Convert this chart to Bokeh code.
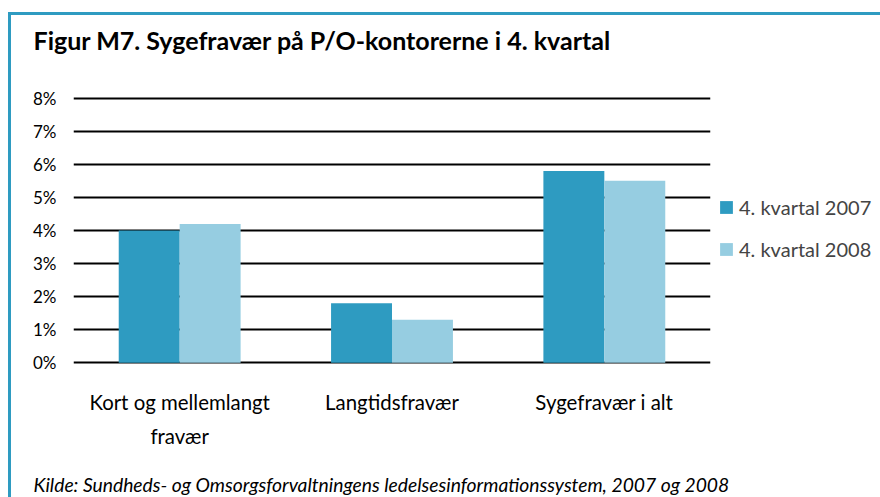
from bokeh.plotting import figure
from bokeh.models import (FactorRange, Range1d, FixedTicker, PrintfTickFormatter, Legend,
                          LegendItem, Title, InlineStyleSheet, ColumnDataSource)
from bokeh.transform import dodge
from bokeh.embed import file_html
from bokeh.resources import INLINE

# ---- data ----
categories = ["Kort og mellemlangt\nfravær", "Langtidsfravær", "Sygefravær i alt"]
series_names = ["4. kvartal 2007", "4. kvartal 2008"]
values_2007 = [4.0, 1.8, 5.8]
values_2008 = [4.2, 1.3, 5.5]
y_ticks = [0, 1, 2, 3, 4, 5, 6, 7, 8]
title_text = "Figur M7. Sygefravær på P/O-kontorerne i 4. kvartal"
source_text = "Kilde: Sundheds- og Omsorgsforvaltningens ledelsesinformationssystem, 2007 og 2008"

DARK = "#2E9BC1"
LIGHT = "#96CDE1"
FONT = "Lato"

src = ColumnDataSource(dict(cat=categories, v07=values_2007, v08=values_2008))

p = figure(x_range=FactorRange(*categories), y_range=Range1d(-0.08, 8.08),
           frame_width=637, frame_height=270,
           min_border_left=62, min_border_right=161, min_border_top=80, min_border_bottom=132,
           output_backend="svg", toolbar_location=None)
p.stylesheets = [InlineStyleSheet(css=":host { border-left: 3px solid #2E9BC1; border-top: 3px solid #2E9BC1; margin: 12px 0 0 8px; }")]

bw = 0.287
r1 = p.vbar(x=dodge("cat", -bw / 2, range=p.x_range), top="v07", width=bw, bottom=0,
            source=src, fill_color=DARK, line_color=None)
r2 = p.vbar(x=dodge("cat", bw / 2, range=p.x_range), top="v08", width=bw, bottom=0,
            source=src, fill_color=LIGHT, line_color=None)

p.outline_line_color = None
p.xgrid.grid_line_color = None
p.ygrid.ticker = FixedTicker(ticks=y_ticks)
p.ygrid.grid_line_color = "black"
p.ygrid.grid_line_width = 2

p.yaxis.ticker = FixedTicker(ticks=y_ticks)
p.yaxis.formatter = PrintfTickFormatter(format="%d%%")
for ax in (p.xaxis[0], p.yaxis[0]):
    ax.axis_line_color = None
    ax.major_tick_line_color = None
    ax.minor_tick_line_color = None
    ax.major_tick_out = 0
    ax.major_tick_in = 0
    ax.minor_tick_out = 0
    ax.major_label_text_font = FONT
    ax.major_label_text_color = "black"
p.yaxis.major_label_text_font_size = "17px"
p.xaxis.major_label_text_font_size = "20.4px"
p.yaxis.major_label_standoff = 17
p.xaxis.major_label_standoff = 24
p.xaxis.major_label_text_line_height = 1.45

legend = Legend(items=[LegendItem(label=series_names[0], renderers=[r1]),
                       LegendItem(label=series_names[1], renderers=[r2])],
                location=(8, 104), orientation="vertical",
                glyph_width=16, glyph_height=16, label_height=16, spacing=18,
                padding=0, margin=0, border_line_color=None, background_fill_alpha=0,
                label_standoff=5, label_text_font=FONT, label_text_font_size="20px")
p.add_layout(legend, "right")

p.title.text = title_text
p.title.align = "left"
p.title.vertical_align = "bottom"
p.title.offset = -40
p.title.standoff = 10
p.title.padding = dict(left=0, right=0, top=0, bottom=36)
p.title.text_font = FONT
p.title.text_font_style = "bold"
p.title.text_font_size = "25px"
p.title.text_color = "black"

p.add_layout(Title(text=source_text, align="left", vertical_align="top", offset=-40, standoff=2,
                   padding=dict(left=0, right=0, top=20, bottom=0),
                   text_font=FONT, text_font_style="italic", text_font_size="19.3px",
                   text_color="black"), "below")

open("out.html", "w").write(file_html(p, INLINE))
